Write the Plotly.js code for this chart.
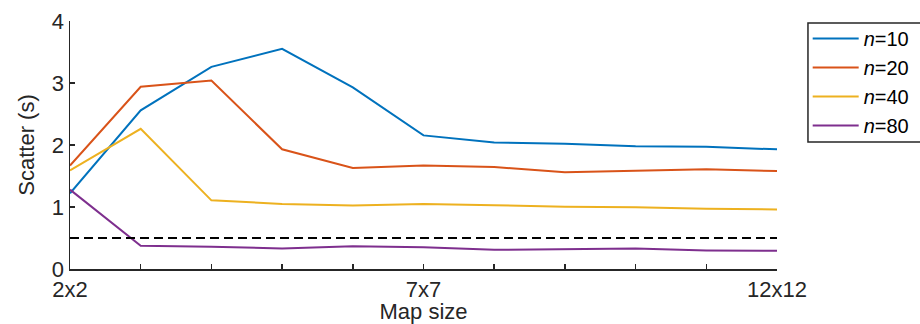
<!DOCTYPE html>
<html>
<head>
<meta charset="utf-8">
<script src="https://cdn.plot.ly/plotly-3.0.1.min.js"></script>
<style>
  html, body { margin: 0; padding: 0; background: #fff; }
  #chart { width: 920px; height: 324px; }
</style>
</head>
<body>
<div id="chart"></div>
<script>
// Map side length (2x2 ... 12x12)
const mapSize = [2, 3, 4, 5, 6, 7, 8, 9, 10, 11, 12];
const tickLabels = ['2x2', '', '', '', '', '7x7', '', '', '', '', '12x12'];

// Scatter for each number of samples n
const scatterN10 = [1.22, 2.56, 3.26, 3.55, 2.93, 2.155, 2.04, 2.02, 1.98, 1.97, 1.93];
const scatterN20 = [1.67, 2.94, 3.04, 1.93, 1.63, 1.67, 1.645, 1.56, 1.585, 1.61, 1.58];
const scatterN40 = [1.59, 2.26, 1.107, 1.05, 1.026, 1.05, 1.03, 1.005, 0.995, 0.97, 0.96];
const scatterN80 = [1.28, 0.376, 0.36, 0.33, 0.365, 0.35, 0.31, 0.315, 0.33, 0.30, 0.295];
const seriesNames = ['<i>n</i>=10', '<i>n</i>=20', '<i>n</i>=40', '<i>n</i>=80'];
const seriesColors = ['#0072BD', '#D95319', '#EDB120', '#7E2F8E'];

// Reference level
const refLevel = 0.5;

const seriesValues = [scatterN10, scatterN20, scatterN40, scatterN80];
const traces = seriesValues.map((vals, i) => ({
  x: mapSize,
  y: vals,
  type: 'scatter',
  mode: 'lines',
  name: seriesNames[i],
  line: { color: seriesColors[i], width: 2 }
}));

traces.push({
  x: [mapSize[0], mapSize[mapSize.length - 1]],
  y: [refLevel, refLevel],
  type: 'scatter',
  mode: 'lines',
  showlegend: false,
  hoverinfo: 'skip',
  line: { color: '#000000', width: 2, dash: '9px,5px' }
});

const axisColor = '#262626';
const font = { family: '"Liberation Sans", Arial, sans-serif', size: 22, color: axisColor };
const legendFont = { family: '"Liberation Sans", Arial, sans-serif', size: 20, color: '#000000' };

const layout = {
  width: 920,
  height: 324,
  margin: { l: 70, r: 143, t: 21, b: 55, autoexpand: false },
  paper_bgcolor: '#ffffff',
  plot_bgcolor: '#ffffff',
  font: font,
  showlegend: true,
  xaxis: {
    range: [2, 12],
    tickvals: mapSize,
    ticktext: tickLabels,
    ticks: 'inside',
    ticklen: 5,
    tickwidth: 1.5,
    tickcolor: axisColor,
    showline: true,
    linecolor: axisColor,
    linewidth: 1.5,
    showgrid: false,
    zeroline: false,
    tickfont: font,
    title: { text: 'Map size', font: font, standoff: 1 }
  },
  yaxis: {
    range: [0, 4],
    tickvals: [0, 1, 2, 3, 4],
    ticks: 'inside',
    ticklen: 5,
    tickwidth: 1.5,
    tickcolor: axisColor,
    showline: true,
    linecolor: axisColor,
    linewidth: 1.5,
    showgrid: false,
    zeroline: false,
    tickfont: font,
    title: { text: 'Scatter (s)', font: font, standoff: 11 }
  },
  legend: {
    x: 1.0434,
    y: 1.008,
    xanchor: 'left',
    yanchor: 'top',
    bgcolor: 'rgba(0,0,0,0)',
    borderwidth: 0,
    font: legendFont,
    itemwidth: 46
  },
  // legend frame
  shapes: [{
    type: 'rect',
    xref: 'paper',
    yref: 'paper',
    x0: 1.0438,
    x1: 1.25,
    y0: 0.5121,
    y1: 0.9919,
    line: { color: axisColor, width: 1.5 },
    fillcolor: 'rgba(0,0,0,0)',
    layer: 'above'
  }]
};

Plotly.newPlot('chart', traces, layout, { staticPlot: true, displayModeBar: false });
</script>
</body>
</html>
